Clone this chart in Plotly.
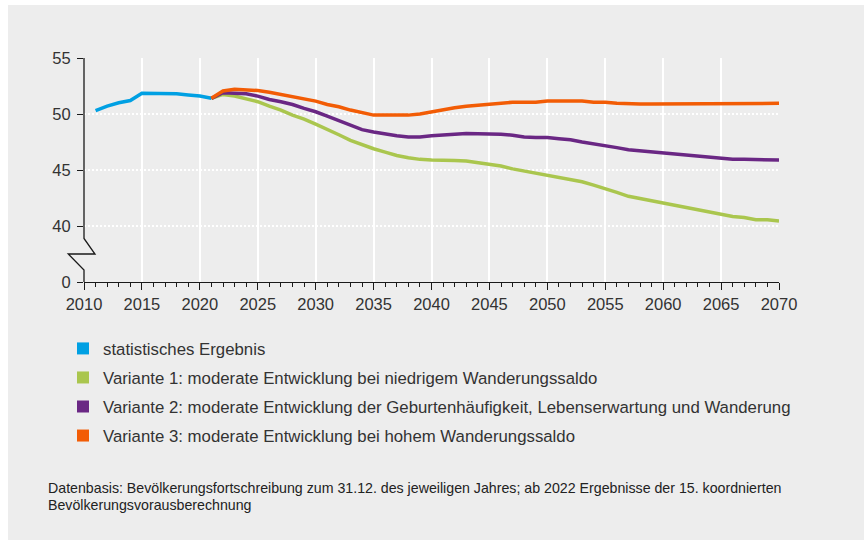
import plotly.graph_objects as go

# ---------------- data ----------------
years_hist = list(range(2011, 2022))
hist = [50.3, 50.7, 51.0, 51.2, 51.85, 51.85, 51.85, 51.8, 51.7, 51.6, 51.4]

years_proj = list(range(2021, 2071))
variant1 = [51.4, 51.75, 51.6, 51.35, 51.1, 50.7, 50.35, 49.9, 49.55, 49.1,
            48.65, 48.15, 47.65, 47.25, 46.9, 46.6, 46.3, 46.1, 45.95, 45.9,
            45.9, 45.85, 45.8, 45.65, 45.5, 45.35, 45.1, 44.9, 44.7, 44.5,
            44.35, 44.15, 43.95, 43.65, 43.35, 43.0, 42.65, 42.45, 42.25, 42.05,
            41.8, 41.6, 41.4, 41.2, 41.0, 40.85, 40.75, 40.55, 40.55, 40.45]
variant2 = [51.4, 51.9, 51.85, 51.8, 51.6, 51.3, 51.1, 50.85, 50.5, 50.2,
            49.8, 49.4, 48.95, 48.6, 48.4, 48.2, 48.05, 47.95, 47.95, 48.05,
            48.15, 48.2, 48.25, 48.25, 48.25, 48.2, 48.1, 47.95, 47.9, 47.9,
            47.8, 47.7, 47.5, 47.35, 47.2, 47.0, 46.8, 46.7, 46.6, 46.5,
            46.45, 46.35, 46.25, 46.15, 46.05, 45.95, 45.95, 45.95, 45.95, 45.9]
variant3 = [51.4, 52.05, 52.2, 52.15, 52.1, 51.95, 51.75, 51.6, 51.4, 51.15,
            50.85, 50.65, 50.35, 50.15, 49.9, 49.9, 49.9, 49.9, 50.0, 50.2,
            50.4, 50.55, 50.7, 50.8, 50.9, 51.0, 51.05, 51.05, 51.05, 51.15,
            51.15, 51.15, 51.15, 51.05, 51.05, 50.95, 50.9, 50.9, 50.9, 50.9,
            50.9, 50.9, 50.9, 50.9, 50.9, 50.9, 50.9, 50.9, 50.95, 50.95]

series_names = [
    "statistisches Ergebnis",
    "Variante 1: moderate Entwicklung bei niedrigem Wanderungssaldo",
    "Variante 2: moderate Entwicklung der Geburtenhäufigkeit, Lebenserwartung und Wanderung",
    "Variante 3: moderate Entwicklung bei hohem Wanderungssaldo",
]
colors = ["#00a0e3", "#aac64e", "#6a2784", "#f25c05"]

# y axis with break: the "0" tick sits at 35 on the drawn scale
ytick_vals = [35, 40, 45, 50, 55]
ytick_text = ["0", "40", "45", "50", "55"]
xtick_vals = list(range(2010, 2071, 5))
footnote_lines = [
    "Datenbasis: Bevölkerungsfortschreibung zum 31.12. des jeweiligen Jahres; "
    "ab 2022 Ergebnisse der 15. koordnierten",
    "Bevölkerungsvorausberechnung",
]

# ---------------- layout geometry (pixels) ----------------
W, H = 865, 540
L, R, T, B = 84, 779, 58, 282
PW, PH = R - L, B - T


def px(x):
    return (x - L) / PW


def py(y):
    return (B - y) / PH


fig = go.Figure()

fig.add_trace(go.Scatter(x=years_hist, y=hist, mode="lines",
                         line=dict(color=colors[0], width=3.5), showlegend=False,
                         hoverinfo="skip"))
for name, vals, c in zip(series_names[1:], [variant1, variant2, variant3], colors[1:]):
    fig.add_trace(go.Scatter(x=years_proj, y=vals, mode="lines",
                             line=dict(color=c, width=3.5), showlegend=False,
                             name=name, hoverinfo="skip"))

# legend entries as squares
for i, (name, c) in enumerate(zip(series_names, colors)):
    fig.add_trace(go.Scatter(x=[None], y=[None], mode="markers", name=name,
                             legendgroup=f"g{i}",
                             marker=dict(symbol="square", size=12, color=c)))

# background panel
shapes = [dict(type="rect", xref="paper", yref="paper", layer="below",
               x0=px(8), x1=px(864), y0=py(540), y1=py(5),
               fillcolor="#ededed", line=dict(width=0))]
# y-axis line with break
path_pts = [(L, T), (L, 238.5), (95, 254), (68.3, 254), (L, 270), (L, B)]
path = "M " + " L ".join(f"{px(a):.5f},{py(b):.5f}" for a, b in path_pts)
shapes.append(dict(type="path", xref="paper", yref="paper", path=path,
                   line=dict(color="#1a1a1a", width=1.3)))

annotations = [dict(text=txt, xref="paper", yref="paper",
                    x=px(46), y=py(yc), xanchor="left", yanchor="middle",
                    align="left", showarrow=False,
                    font=dict(size=14.2, color="#222222"))
               for txt, yc in zip(footnote_lines, [488, 505])]

fig.update_layout(
    width=W, height=H,
    margin=dict(l=L, r=W - R, t=T, b=H - B),
    paper_bgcolor="white",
    plot_bgcolor="rgba(0,0,0,0)",
    font=dict(family="Liberation Sans, Arial, sans-serif", color="#333333", size=16),
    shapes=shapes,
    showlegend=True,
    hovermode=False,
    legend=dict(x=px(63), y=py(331), xanchor="left", yanchor="top",
                bgcolor="rgba(0,0,0,0)", traceorder="grouped",
                tracegroupgap=4.2,
                font=dict(size=16.8, color="#333333")),
    annotations=annotations,
)

fig.update_xaxes(range=[2010, 2070], tickvals=xtick_vals, showgrid=True,
                 gridcolor="white", gridwidth=2,
                 showline=True, linecolor="#1a1a1a", linewidth=1.3,
                 ticks="outside", ticklen=7, tickcolor="#1a1a1a", tickwidth=1.3,
                 minor=dict(dtick=1, ticks="outside", ticklen=4, tickcolor="#1a1a1a",
                            tickwidth=1.3, showgrid=False),
                 tickfont=dict(size=16.5, color="#333333"), zeroline=False)
fig.update_yaxes(range=[35, 55], tickvals=ytick_vals, ticktext=ytick_text,
                 showgrid=True, gridcolor="white", gridwidth=1.5, griddash="2px,2px",
                 showline=False, ticks="outside", ticklen=6, tickcolor="#1a1a1a",
                 tickwidth=1.3, tickfont=dict(size=16.5, color="#333333"),
                 ticklabelstandoff=3, zeroline=False)

fig.write_html("out.html", config={"displayModeBar": False},
               post_script="document.body.style.margin='0';")
